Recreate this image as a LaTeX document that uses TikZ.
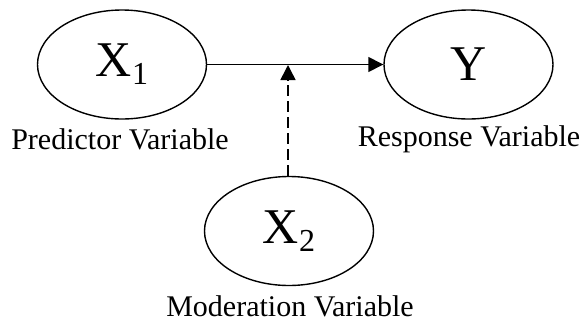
\documentclass[tikz,border=0pt]{standalone}
\usepackage{fontspec}
\setmainfont{Liberation Serif}
\usetikzlibrary{arrows.meta,shapes.geometric}
\tikzset{
  var/.style={draw, line width=1.4pt, ellipse, minimum width=169pt, minimum height=109pt, inner sep=0pt, font=\fontsize{50}{50}\selectfont},
  lbl/.style={font=\fontsize{30}{32}\selectfont, inner sep=0pt},
  conn/.style={line width=1.5pt, -{Triangle[length=15pt,width=15pt]}}
}
\newcommand{\subs}[1]{{\fontsize{32}{32}\selectfont\raisebox{-0.25em}{#1}}}
\begin{document}
\begin{tikzpicture}[x=1pt,y=-1pt]
\useasboundingbox (0,0) rectangle (582,322);
\node[var] (x1) at (122,64.5) {X\subs{1}};
\node[var] (y) at (468.5,64.5) {Y};
\node[var] (x2) at (289,231) {X\subs{2}};
\node[lbl] (l1) at (120,139) {Predictor Variable};
\node[lbl] (l2) at (469,139) {Response Variable};
\node[lbl] (l3) at (290,306) {Moderation Variable};
\coordinate (m) at (288,65);
\draw[conn] (x1.east) -- (y.west);
\draw[conn, dash pattern=on 11pt off 5pt] (x2.north -| m) -- (m);
\end{tikzpicture}
\end{document}
